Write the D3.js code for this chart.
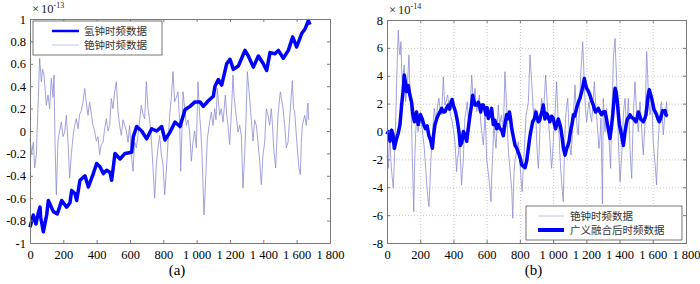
<!DOCTYPE html>
<html>
<head>
<meta charset="utf-8">
<script src="https://cdn.jsdelivr.net/npm/d3@7"></script>
<style>
    body { margin: 0; background: #fff; }
</style>
</head>
<body>
<div id="chart-area"></div>
<script>
// Data: [x, value]
// (a) hydrogen clock, units of 1e-13
let hydrogenA = [[0,-0.86],[20,-0.75],[36,-0.83],[50,-0.73],[60,-0.68],[64,-0.77],[80,-0.9],[100,-0.75],[110,-0.62],[140,-0.72],
    [164,-0.74],[190,-0.62],[220,-0.68],[240,-0.64],[250,-0.53],[270,-0.56],[280,-0.62],[300,-0.44],[330,-0.40],[350,-0.50],
    [380,-0.38],[400,-0.29],[420,-0.32],[440,-0.38],[460,-0.35],[480,-0.37],[490,-0.44],[510,-0.2],[540,-0.25],[570,-0.2],
    [610,-0.19],[620,-0.05],[640,0.04],[670,0.0],[700,-0.07],[730,0.02],[760,0.0],[790,0.04],[810,-0.08],[840,-0.01],
    [870,0.08],[900,0.04],[930,0.19],[960,0.22],[990,0.26],[1020,0.26],[1040,0.22],[1070,0.27],[1100,0.31],[1110,0.40],
    [1130,0.46],[1150,0.41],[1180,0.60],[1200,0.64],[1220,0.55],[1250,0.58],[1290,0.72],[1310,0.67],[1340,0.57],[1370,0.67],
    [1400,0.60],[1420,0.54],[1440,0.70],[1470,0.69],[1490,0.72],[1520,0.65],[1550,0.72],[1576,0.84],[1600,0.75],[1630,0.87],
    [1650,0.91],[1670,0.985],[1680,0.95]];

// (a) cesium clock, units of 1e-13
let cesiumA = [[0,-0.07],[10,-0.2],[20,-0.1],[28,-0.33],[38,-0.21],[50,0.3],[58,0.65],[68,0.44],[76,0.55],[84,0.5],
    [98,0.23],[108,0.32],[118,0.2],[128,0.47],[138,0.3],[144,0.5],[150,-0.1],[158,-0.57],[168,-0.09],[178,0.0],
    [188,0.08],[198,-0.05],[208,-0.01],[218,0.14],[228,-0.1],[238,-0.42],[248,-0.21],[258,-0.05],[268,0.05],[278,0.11],
    [288,0.02],[298,0.15],[308,0.18],[318,0.26],[328,0.38],[338,0.25],[348,0.14],[358,0.26],[368,0.15],[378,0.05],
    [388,0.0],[398,-0.09],[408,-0.05],[418,-0.21],[428,-0.12],[438,-0.1],[448,0.02],[458,0.11],[468,0.0],[478,0.05],
    [488,0.29],[498,0.2],[508,0.35],[518,0.44],[528,0.17],[538,0.05],[548,-0.04],[558,0.1],[568,0.05],[578,0.0],
    [588,-0.1],[598,0.05],[608,-0.21],[618,-0.36],[628,-0.1],[638,-0.15],[648,-0.04],[658,0.1],[668,0.23],[678,0.15],
    [688,0.11],[698,0.44],[708,0.2],[718,0.1],[728,-0.07],[738,-0.33],[748,-0.6],[758,-0.3],[768,-0.15],[778,-0.04],
    [788,-0.21],[798,-0.3],[808,-0.57],[818,-0.36],[828,-0.1],[838,0.14],[848,0.3],[858,0.53],[868,0.26],[878,0.3],
    [888,0.35],[898,0.08],[904,-0.36],[910,-0.1],[918,0.35],[928,0.2],[938,0.05],[948,0.1],[958,-0.01],[968,-0.27],
    [978,-0.1],[988,0.0],[998,-0.15],[1008,0.44],[1018,0.14],[1025,0.0],[1032,-0.21],[1044,-0.75],[1052,-0.5],[1064,-0.07],
    [1078,0.08],[1088,0.17],[1098,0.05],[1108,0.2],[1116,0.1],[1124,0.38],[1138,0.14],[1148,0.2],[1158,0.08],[1172,0.32],
    [1180,0.15],[1188,0.05],[1198,-0.12],[1208,0.15],[1218,0.5],[1225,0.3],[1232,0.2],[1240,0.1],[1248,-0.01],[1258,0.05],
    [1268,-0.04],[1278,-0.51],[1288,-0.21],[1296,0.1],[1304,0.53],[1318,0.29],[1328,0.1],[1338,-0.09],[1348,0.1],[1358,0.05],
    [1368,-0.1],[1378,-0.27],[1388,-0.48],[1398,-0.21],[1408,-0.1],[1418,0.2],[1428,0.14],[1438,0.05],[1448,0.2],[1455,0.05],
    [1462,-0.15],[1474,-0.33],[1482,-0.05],[1488,0.14],[1495,0.25],[1502,0.35],[1510,0.28],[1518,0.2],[1528,0.05],[1538,-0.15],
    [1548,-0.1],[1555,0.05],[1562,0.2],[1574,0.45],[1581,0.2],[1588,0.17],[1598,-0.04],[1606,-0.2],[1614,-0.33],[1622,-0.39],
    [1628,-0.1],[1634,0.05],[1648,0.14],[1658,0.05],[1664,0.2],[1668,0.25],[1672,0.1]];

// (b) cesium clock, units of 1e-14
let cesiumB = [[0,-1.7],[8,-2.64],[13,-1.0],[18,-0.73],[23,-2.0],[28,-2.88],[38,-4.08],[43,-2.5],[48,-0.73],[53,1.0],
    [58,3.57],[63,5.5],[68,7.28],[73,6.0],[78,5.49],[84,6.44],[88,4.5],[92,3.57],[98,4.2],[104,4.77],
    [108,3.0],[112,2.14],[118,3.0],[124,3.57],[128,4.5],[132,5.49],[138,3.0],[144,1.66],[148,0.5],[152,-1.69],
    [156,-3.5],[161,-5.75],[165,-3.0],[168,-1.69],[173,0.0],[178,0.95],[183,0.3],[188,-0.01],[195,0.8],[202,1.42],
    [209,0.5],[216,-0.25],[223,-1.0],[230,-2.16],[237,-3.4],[243,-4.32],[248,-5.0],[253,-5.39],[258,-4.0],[263,-2.4],
    [268,-1.2],[273,-0.25],[279,0.8],[285,1.66],[292,0.9],[299,1.18],[306,2.0],[313,2.38],[320,1.5],[329,1.18],
    [334,2.5],[339,3.93],[344,2.6],[349,1.9],[357,2.2],[365,2.62],[372,2.0],[379,1.42],[386,1.0],[393,0.7],
    [401,0.0],[409,-0.73],[414,-1.8],[419,-2.88],[424,-2.0],[429,-1.69],[434,-0.8],[439,-1.21],[444,-2.5],[449,-3.84],
    [454,-2.8],[459,-2.16],[464,-0.5],[469,0.95],[476,1.5],[483,2.14],[489,1.0],[495,-0.01],[502,2.0],[510,4.05],
    [515,3.0],[520,2.14],[525,2.5],[530,3.1],[535,2.0],[540,1.42],[548,2.0],[556,2.62],[560,1.5],[564,0.7],
    [572,-0.2],[580,-0.97],[585,0.0],[590,1.18],[595,0.0],[600,-1.93],[608,-2.8],[616,-3.6],[621,-4.3],[626,-5.03],
    [631,-3.0],[636,-1.69],[640,-0.5],[644,0.47],[650,-0.5],[656,-1.21],[663,0.3],[670,1.9],[675,1.0],[680,0.47],
    [685,1.0],[690,1.18],[695,0.5],[700,-0.01],[705,2.0],[710,4.29],[715,3.0],[720,1.66],[725,0.3],[730,-1.21],
    [735,-2.0],[740,-2.64],[746,-3.5],[751,-4.08],[757,-6.23],[761,-4.5],[765,-2.88],[771,-2.0],[777,-1.69],[784,-1.0],
    [791,-0.73],[796,-1.5],[801,-2.4],[807,-3.4],[813,-4.32],[819,-3.0],[825,-1.69],[831,-0.3],[837,1.18],[844,1.6],
    [851,2.14],[856,3.8],[861,5.49],[866,4.5],[871,3.57],[878,2.0],[885,0.95],[891,1.66],[896,1.2],[901,-0.73],
    [906,-1.8],[911,-2.64],[916,-1.5],[921,0.47],[926,1.5],[931,2.38],[936,1.8],[941,1.18],[948,2.6],[955,4.05],
    [961,2.8],[967,1.66],[974,0.5],[981,-0.73],[986,-1.8],[991,-2.64],[996,-1.8],[1001,-0.73],[1006,0.2],[1011,1.18],
    [1016,2.4],[1021,3.57],[1026,2.0],[1031,0.95],[1036,-0.3],[1041,-1.69],[1046,-2.8],[1051,-3.6],[1056,-4.3],[1061,-5.03],
    [1064,-3.5],[1067,-2.16],[1071,-0.5],[1075,0.95],[1081,1.8],[1088,2.38],[1093,1.0],[1098,-0.73],[1103,-1.3],[1108,-1.69],
    [1115,-0.3],[1122,1.18],[1127,2.2],[1132,3.34],[1137,2.0],[1142,0.7],[1147,0.0],[1152,-0.25],[1159,1.8],[1166,4.05],
    [1172,5.2],[1178,6.44],[1183,5.0],[1188,3.34],[1195,1.5],[1202,0.7],[1209,1.5],[1216,2.14],[1224,1.2],[1232,0.7],
    [1240,2.0],[1248,3.57],[1255,2.2],[1262,1.18],[1269,0.0],[1276,-1.21],[1282,-0.5],[1288,0.95],[1293,-2.5],[1297,-5.2],
    [1302,2.38],[1307,1.2],[1312,-0.01],[1317,0.8],[1322,1.66],[1329,0.5],[1336,-0.49],[1341,-1.5],[1346,-2.64],[1350,-0.5],
    [1353,1.18],[1358,3.0],[1363,5.25],[1368,6.0],[1373,6.68],[1378,5.0],[1383,3.57],[1388,1.5],[1393,-0.73],[1398,-2.2],
    [1403,-3.6],[1408,-2.6],[1413,-1.69],[1418,-0.2],[1423,1.18],[1428,1.9],[1433,2.38],[1438,1.2],[1443,-0.01],[1448,1.2],
    [1453,2.38],[1458,0.5],[1463,-1.21],[1468,-2.4],[1473,-3.36],[1478,-1.0],[1483,1.18],[1488,2.4],[1493,3.57],[1498,2.4],
    [1503,1.18],[1508,0.5],[1513,-0.01],[1518,1.0],[1523,2.14],[1528,1.2],[1533,0.23],[1538,-0.8],[1543,-1.69],[1548,-0.5],
    [1553,0.47],[1558,3.0],[1563,5.73],[1568,4.5],[1573,2.86],[1578,2.0],[1583,1.18],[1588,1.7],[1593,2.38],[1598,0.8],
    [1603,-0.73],[1608,-1.5],[1613,-2.16],[1618,-3.0],[1623,-3.84],[1628,-2.0],[1633,-0.73],[1638,0.3],[1643,1.18],[1648,1.8],
    [1653,2.14],[1658,0.9],[1663,-0.25],[1668,0.5],[1673,1.18],[1678,1.6],[1683,2.14],[1688,1.0]];

// (b) fused data, units of 1e-14
let fusedB = [[0,-0.2],[8,0.0],[18,-0.7],[28,0.1],[36,-0.2],[44,-1.2],[58,-0.5],[68,-0.1],[78,0.47],[88,1.9],
    [96,2.8],[104,4.05],[112,3.4],[118,2.86],[128,3.3],[138,2.6],[148,2.1],[156,1.2],[165,0.7],[178,1.4],
    [188,0.5],[202,1.2],[212,0.9],[222,0.47],[232,0.2],[242,0.4],[252,-0.3],[262,-0.6],[273,-1.2],[281,-0.2],
    [289,0.5],[299,0.9],[309,1.2],[319,1.4],[329,1.66],[339,1.4],[349,1.42],[359,1.7],[369,1.9],[377,1.6],
    [385,2.1],[392,2.3],[399,1.9],[413,1.4],[423,0.8],[433,0.0],[441,-1.0],[450,-0.8],[460,0.0],[470,-0.3],
    [480,-0.7],[490,0.3],[500,1.2],[508,1.8],[516,2.6],[523,2.2],[530,1.9],[540,1.9],[550,2.1],[557,1.8],
    [564,1.4],[572,1.9],[580,1.9],[588,1.6],[596,1.2],[603,1.7],[610,0.94],[620,1.2],[630,1.66],[640,0.5],
    [650,0.8],[660,0.2],[670,0.5],[680,0.2],[690,0.1],[700,-0.3],[710,0.5],[720,1.2],[728,0.9],[737,1.4],
    [744,0.9],[751,0.2],[761,-0.4],[771,-1.0],[781,-1.2],[790,-1.5],[797,-1.7],[804,-2.0],[811,-2.4],[821,-2.5],
    [831,-2.6],[841,-2.1],[851,-1.2],[861,-0.3],[869,0.2],[877,0.7],[887,0.9],[897,1.4],[904,1.0],[911,0.7],
    [919,0.8],[927,1.2],[934,1.5],[941,1.9],[951,0.9],[959,1.3],[967,1.18],[974,0.9],[981,0.7],[991,1.1],
    [1001,0.95],[1008,0.5],[1015,0.2],[1023,0.5],[1031,0.9],[1039,0.6],[1047,0.2],[1055,-0.5],[1062,-1.2],[1072,-1.7],
    [1082,-1.2],[1089,-1.0],[1096,-0.7],[1102,-0.2],[1108,0.2],[1115,0.6],[1122,1.2],[1129,1.1],[1136,1.4],[1144,1.8],
    [1152,2.1],[1162,2.4],[1172,2.85],[1180,3.3],[1188,3.8],[1195,3.4],[1202,3.1],[1212,2.9],[1222,2.6],[1232,2.2],
    [1242,1.9],[1249,1.6],[1256,1.4],[1264,1.5],[1272,1.66],[1282,1.4],[1292,1.2],[1302,1.4],[1312,1.42],[1320,1.0],
    [1328,0.47],[1335,0.0],[1342,-0.5],[1350,0.2],[1359,1.2],[1366,2.2],[1373,3.1],[1380,2.8],[1387,2.1],[1393,1.2],
    [1399,0.5],[1406,0.1],[1413,-0.3],[1418,-0.7],[1423,-1.0],[1428,-0.5],[1433,0.0],[1440,0.5],[1447,0.9],[1455,1.0],
    [1463,1.2],[1473,1.0],[1483,0.95],[1491,0.8],[1499,0.7],[1506,1.0],[1513,1.4],[1520,1.2],[1527,0.9],[1535,0.8],
    [1543,0.7],[1551,0.9],[1559,1.2],[1566,1.9],[1572,2.6],[1579,3.0],[1586,2.7],[1593,2.4],[1600,2.0],[1607,1.6],
    [1615,1.4],[1623,1.2],[1631,0.9],[1639,0.7],[1646,0.9],[1653,1.2],[1660,1.5],[1667,1.4],[1674,1.5],[1679,1.2],
    [1688,1.1]];

let xTicks = [0, 200, 400, 600, 800, 1000, 1200, 1400, 1600, 1800];
let yTicksA = [-1, -0.8, -0.6, -0.4, -0.2, 0, 0.2, 0.4, 0.6, 0.8, 1];
let yTicksB = [-8, -6, -4, -2, 0, 2, 4, 6, 8];
let legendA = ["氢钟时频数据", "铯钟时频数据"];
let legendB = ["铯钟时频数据", "广义融合后时频数据"];

let blue = "#0000ff";
let cesiumColor = "#8a8ad6";
let axisColor = "#7a7a7a";
let serif = "'Liberation Serif', 'Times New Roman', serif";
let cjk = "'Noto Sans CJK SC', sans-serif";

let svg = d3.select("#chart-area").append("svg")
    .attr("width", 700)
    .attr("height", 284)
    .style("font-family", serif);

// thousands with a space, like "1 200"
function fmtX(d) {
    if (d < 1000) return String(d);
    return Math.floor(d / 1000) + " " + String(d % 1000).padStart(3, "0");
}
function fmtY(d) {
    return String(+d.toFixed(1));
}

function drawPanel(opt) {
    let w = opt.right - opt.left, h = opt.bottom - opt.top;
    let g = svg.append("g").attr("transform", "translate(" + opt.left + "," + opt.top + ")");

    let x = d3.scaleLinear().domain([0, 1800]).range([0, w]);
    let y = d3.scaleLinear().domain(opt.yDomain).range([h, 0]);

    // dotted grid (panel b only)
    if (opt.grid) {
        g.append("g")
            .attr("transform", "translate(0," + h + ")")
            .call(d3.axisBottom(x).tickValues(xTicks).tickSize(-h).tickFormat(""))
            .call(s => s.select(".domain").remove())
            .selectAll("line").attr("stroke", "#c8c8c8").attr("stroke-dasharray", "1,2");
        g.append("g")
            .call(d3.axisLeft(y).tickValues(opt.yTicks).tickSize(-w).tickFormat(""))
            .call(s => s.select(".domain").remove())
            .selectAll("line").attr("stroke", "#c8c8c8").attr("stroke-dasharray", "1,2");
    }

    let line = d3.line().x(d => x(d[0])).y(d => y(d[1]));

    opt.series.forEach(s => {
        g.append("path")
            .datum(s.data)
            .attr("fill", "none")
            .attr("stroke", s.color)
            .attr("stroke-width", s.width)
            .attr("stroke-linejoin", "round")
            .attr("d", line);
    });

    // box + inward ticks on all sides
    let bottomAxis = g.append("g").attr("transform", "translate(0," + h + ")")
        .call(d3.axisBottom(x).tickValues(xTicks).tickSize(-3).tickPadding(7).tickFormat(fmtX));
    let topAxis = g.append("g")
        .call(d3.axisTop(x).tickValues(xTicks).tickSize(-3).tickFormat(""));
    let leftAxis = g.append("g")
        .call(d3.axisLeft(y).tickValues(opt.yTicks).tickSize(-3).tickPadding(4).tickFormat(fmtY));
    let rightAxis = g.append("g").attr("transform", "translate(" + w + ",0)")
        .call(d3.axisRight(y).tickValues(opt.yTicks).tickSize(-3).tickFormat(""));

    [bottomAxis, topAxis, leftAxis, rightAxis].forEach(a => {
        a.attr("font-family", null).attr("font-size", null);
        a.select(".domain").attr("stroke", axisColor);
        a.selectAll("line").attr("stroke", axisColor);
        a.selectAll("text")
            .attr("fill", "#000")
            .style("font-family", serif)
            .style("font-size", "12.5px");
    });

    // exponent label
    let ex = svg.append("text")
        .attr("x", opt.left + 2)
        .attr("y", opt.top - 6)
        .style("font-family", serif)
        .style("font-size", "12.5px")
        .attr("fill", "#222");
    ex.append("tspan").text("×");
    ex.append("tspan").attr("dx", 2).text("10");
    ex.append("tspan").attr("dy", -5).style("font-size", "8px").text(opt.exponent);

    // panel caption
    svg.append("text")
        .attr("x", opt.left + w / 2 - 3)
        .attr("y", 275)
        .attr("text-anchor", "middle")
        .style("font-family", serif)
        .style("font-size", "15px")
        .text(opt.caption);

    // legend
    let lg = opt.legend;
    svg.append("rect")
        .attr("x", lg.x).attr("y", lg.y)
        .attr("width", lg.w).attr("height", lg.h)
        .attr("fill", "#fff")
        .attr("stroke", "#555")
        .attr("stroke-width", 0.8);
    lg.items.forEach((it, i) => {
        let cy = lg.y + lg.rowY[i];
        svg.append("line")
            .attr("x1", lg.x + lg.lineX[0]).attr("x2", lg.x + lg.lineX[1])
            .attr("y1", cy).attr("y2", cy)
            .attr("stroke", it.color)
            .attr("stroke-width", it.width);
        svg.append("text")
            .attr("x", lg.x + lg.textX)
            .attr("y", cy)
            .attr("dy", "0.35em")
            .style("font-family", cjk)
            .style("font-size", "10.5px")
            .attr("fill", "#333")
            .text(it.label);
    });
}

drawPanel({
    left: 30, right: 330, top: 19, bottom: 243,
    yDomain: [-1, 1], yTicks: yTicksA, grid: false,
    exponent: "-13", caption: "(a)",
    series: [
        {data: cesiumA, color: cesiumColor, width: 0.8},
        {data: hydrogenA, color: blue, width: 3.5}
    ],
    legend: {
        x: 33, y: 21, w: 129, h: 34, rowY: [10, 24], lineX: [19, 46], textX: 51,
        items: [
            {label: legendA[0], color: blue, width: 2.5},
            {label: legendA[1], color: "#c4c4dc", width: 1}
        ]
    }
});

drawPanel({
    left: 387, right: 686, top: 20, bottom: 243,
    yDomain: [-8, 8], yTicks: yTicksB, grid: true,
    exponent: "-14", caption: "(b)",
    series: [
        {data: cesiumB, color: cesiumColor, width: 0.8},
        {data: fusedB, color: blue, width: 3.5}
    ],
    legend: {
        x: 526, y: 206, w: 156, h: 34, rowY: [10, 24], lineX: [12, 38], textX: 44,
        items: [
            {label: legendB[0], color: "#c4c4dc", width: 1},
            {label: legendB[1], color: blue, width: 4}
        ]
    }
});
</script>
</body>
</html>
